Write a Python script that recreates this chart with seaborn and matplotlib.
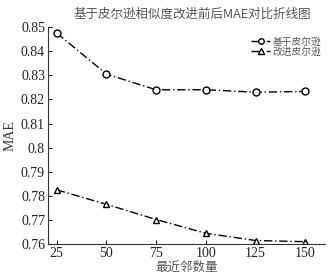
import matplotlib
matplotlib.use("Agg")
import matplotlib.pyplot as plt
import seaborn as sns
import pandas as pd

neighbors = [25, 50, 75, 100, 125, 150]
mae_pearson = [0.8475, 0.8305, 0.8240, 0.8240, 0.8230, 0.8233]
mae_improved = [0.7825, 0.7765, 0.7702, 0.7645, 0.7615, 0.7610]
series_names = ["基于皮尔逊", "改进皮尔逊"]
y_ticks = [0.76, 0.77, 0.78, 0.79, 0.8, 0.81, 0.82, 0.83, 0.84, 0.85]
y_tick_labels = ["0.76", "0.77", "0.78", "0.79", "0.8", "0.81", "0.82", "0.83", "0.84", "0.85"]

sns.set_style("ticks")
plt.rcParams["font.family"] = ["Liberation Serif", "Noto Sans CJK SC"]
plt.rcParams["xtick.direction"] = "in"
plt.rcParams["ytick.direction"] = "in"

df = pd.DataFrame({
    "k": neighbors * 2,
    "mae": mae_pearson + mae_improved,
    "method": [series_names[0]] * 6 + [series_names[1]] * 6,
})

fig, ax = plt.subplots(figsize=(3.3, 2.79), dpi=100)
sns.lineplot(data=df, x="k", y="mae", hue="method", style="method",
             markers=["o", "^"], dashes=[(6, 2, 1, 2), (6, 2, 1, 2)],
             palette=["black", "black"], markersize=5, markerfacecolor="white",
             markeredgecolor="black", markeredgewidth=1.0, linewidth=1.0, ax=ax)

ax.set_xlim(20.5, 160)
ax.set_ylim(0.76, 0.85)
ax.set_xticks(neighbors)
ax.set_yticks(y_ticks)
ax.set_yticklabels(y_tick_labels)
ax.tick_params(labelsize=10, length=3, colors="#222222", labelcolor="#222222", pad=2)
sns.despine(ax=ax)
ax.spines["left"].set_color("#333333")
ax.spines["bottom"].set_color("#333333")

ax.set_xlabel("最近邻数量", fontsize=9, color="#555555", family=["Noto Sans CJK SC"], labelpad=1)
ax.set_ylabel("MAE", fontsize=10, color="#333333", labelpad=3)
ax.set_title("基于皮尔逊相似度改进前后MAE对比折线图", fontsize=9, color="#555555",
             family=["Noto Sans CJK SC"], pad=7, x=0.52)

leg = ax.legend(loc="upper right", frameon=False, fontsize=7, handlelength=2.0,
                borderaxespad=0.0, labelspacing=0.05, handletextpad=0.2,
                markerscale=0.8, bbox_to_anchor=(1.0, 0.975))
for t in leg.get_texts():
    t.set_color("#555555")
    t.set_family(["Noto Sans CJK SC"])

fig.subplots_adjust(left=0.145, right=0.985, top=0.903, bottom=0.125)
fig.savefig("out.png", dpi=100)
